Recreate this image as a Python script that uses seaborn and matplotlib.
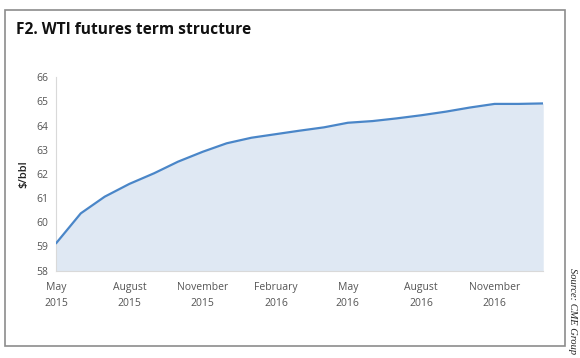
import pandas as pd
import numpy as np
import matplotlib
matplotlib.use("Agg")
import matplotlib.pyplot as plt
import matplotlib.dates as mdates
from matplotlib.patches import Rectangle
import seaborn as sns

# WTI futures settlement by contract month ($/bbl)
months = pd.date_range("2015-05-01", "2017-01-01", freq="MS")
prices = [59.13, 60.37, 61.06, 61.59, 62.03, 62.51, 62.92, 63.27, 63.50,
          63.65, 63.79, 63.93, 64.12, 64.19, 64.30, 64.43, 64.58, 64.75,
          64.90, 64.90, 64.92]
tick_months = pd.date_range("2015-05-01", "2016-11-01", freq="3MS")
tick_labels = ["May\n2015", "August\n2015", "November\n2015", "February\n2016",
               "May\n2016", "August\n2016", "November\n2016"]

df = pd.DataFrame({"month": months, "price": prices})

sns.set_style("white")
plt.rcParams['font.family'] = ['Open Sans', 'DejaVu Sans']

line_col = "#4a86c8"
fill_col = "#dfe8f3"
axis_col = "#d9d9d9"
text_col = "#555555"

fig = plt.figure(figsize=(5.8, 3.58), dpi=100)
ax = fig.add_axes([0.0966, 0.244, 0.84, 0.540])

ax.fill_between(df["month"], df["price"], 58, color=fill_col, lw=0, zorder=1)
sns.lineplot(data=df, x="month", y="price", ax=ax, color=line_col, lw=1.6, zorder=3)

ax.set_xlim(months[0], months[-1])
ax.set_ylim(58, 66)
ax.set_yticks(range(58, 67))
ax.set_xticks(tick_months)
ax.set_xticklabels(tick_labels)
ax.xaxis.set_minor_locator(mdates.MonthLocator())

for s in ["top", "right"]:
    ax.spines[s].set_visible(False)
for s in ["left", "bottom"]:
    ax.spines[s].set_color(axis_col)
    ax.spines[s].set_linewidth(0.8)

ax.tick_params(axis="x", which="both", length=4, width=0.8, color=axis_col,
               labelsize=7.5, labelcolor=text_col, pad=4, direction="out")
ax.tick_params(axis="y", length=2.5, width=0.8, color=axis_col,
               labelsize=7.5, labelcolor=text_col, pad=3, direction="out")
for lab in ax.get_xticklabels():
    lab.set_linespacing(1.6)

ax.set_xlabel("")
ax.set_ylabel("$/bbl", fontsize=8, fontweight="semibold", color="#222222", labelpad=5)

# outer frame
fig.patches.append(Rectangle((5 / 580, 1 - 346 / 358), 560 / 580, 336 / 358,
                             transform=fig.transFigure, fill=False,
                             edgecolor="#8c8c8c", lw=1.2))

fig.text(16 / 580, 1 - 30 / 358, "F2. WTI futures term structure",
         fontsize=11.2, fontweight="bold", color="#111111", va="center", ha="left")

fig.text(573 / 580, 1 - 311 / 358, "Source: CME Group", rotation=-90,
         fontsize=7.5, style="italic", family="Liberation Serif", color="#222222",
         ha="center", va="center")

fig.savefig("out.png", dpi=100)
